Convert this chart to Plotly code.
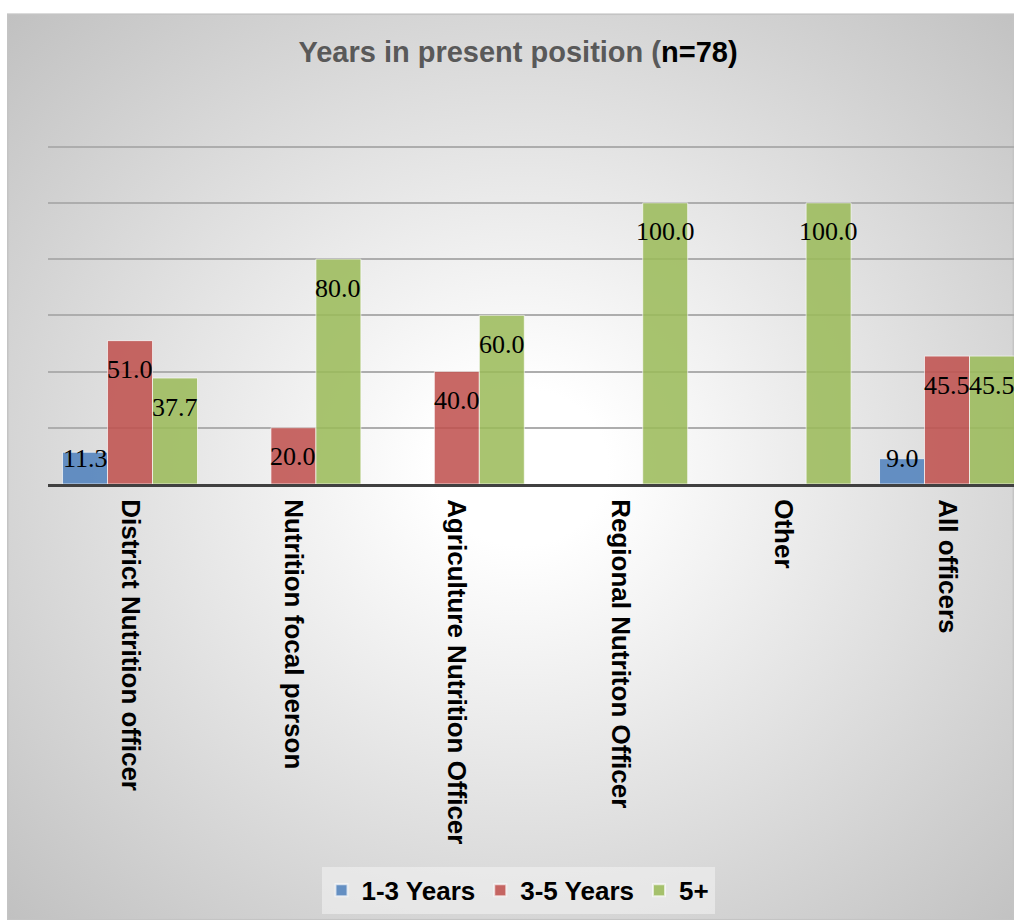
import base64
import plotly.graph_objects as go

# ---- data ----
categories = [
    "District Nutrition officer",
    "Nutrition focal person",
    "Agriculture Nutrition Officer",
    "Regional Nutriton Officer",
    "Other",
    "All officers",
]
series_names = ["1-3 Years", "3-5 Years", "5+"]
years_1_3 = [11.3, None, None, None, None, 9.0]
years_3_5 = [51.0, 20.0, 40.0, None, None, 45.5]
years_5_plus = [37.7, 80.0, 60.0, 100.0, 100.0, 45.5]
series_values = [years_1_3, years_3_5, years_5_plus]
series_colors = ["#4F81BD", "#C0504D", "#9BBB59"]

# ---- layout constants (pixels) ----
W, H = 1014, 920
BASE_Y = 484                 # pixel row of the value axis baseline
PX_PER_UNIT = 337 / 120      # vertical scale
Y_TOP = 120.6                # a little headroom so the 120 gridline is drawn
M_L, M_R = 48, 0
M_B = H - BASE_Y
PLOT_H = Y_TOP * PX_PER_UNIT
M_T = H - M_B - PLOT_H
PLOT_W = W - M_L - M_R
X_RANGE = [-0.502, 5.41]
BARGAP = 0.174

# chart-area background: soft radial gradient with a thin frame
box_x0, box_y0 = 7, 14
box_w, box_h = W - box_x0, H - box_y0
svg = f"""<svg xmlns="http://www.w3.org/2000/svg" width="{box_w}" height="{box_h}" viewBox="0 0 {box_w} {box_h}" preserveAspectRatio="none">
<defs><radialGradient id="g" cx="0.51" cy="0.5" r="0.72">
<stop offset="0" stop-color="#ffffff"/><stop offset="0.12" stop-color="#ffffff"/>
<stop offset="1" stop-color="#c0c0c0"/></radialGradient></defs>
<rect x="0" y="0" width="{box_w}" height="{box_h}" fill="url(#g)" stroke="#c4c4c4" stroke-width="3"/>
</svg>"""
bg_uri = "data:image/svg+xml;base64," + base64.b64encode(svg.encode()).decode()

fig = go.Figure()
for name, vals, col in zip(series_names, series_values, series_colors):
    fig.add_trace(go.Bar(
        name=name, x=categories, y=vals,
        marker=dict(color=col, line=dict(color="rgba(255,255,255,0.7)", width=1)),
        opacity=0.86,
        hoverinfo="skip",
    ))

# value labels placed just inside the top of each bar
cat_px = PLOT_W / (X_RANGE[1] - X_RANGE[0])
bar_px = cat_px * (1 - BARGAP) / 3
annotations = []
for i, vals in enumerate(series_values):
    for cat, v in zip(categories, vals):
        if v is None:
            continue
        drop = min(29, v * PX_PER_UNIT - 25)
        annotations.append(dict(
            x=cat, y=v, xref="x", yref="y",
            text=f"{v:.1f}", showarrow=False,
            xshift=(i - 1) * bar_px, yshift=-drop,
            xanchor="center", yanchor="middle",
            font=dict(family="Liberation Serif, Times New Roman, serif", size=26, color="#000000"),
        ))

fig.update_layout(
    width=W, height=H,
    margin=dict(l=M_L, r=M_R, t=M_T, b=M_B, pad=0),
    paper_bgcolor="#ffffff",
    plot_bgcolor="rgba(0,0,0,0)",
    barmode="group",
    bargap=BARGAP,
    bargroupgap=0,
    title=dict(
        text="<span style='color:#595959'>Years in present position (</span>n=78)",
        x=518 / W, xref="container", xanchor="center",
        y=1 - 52 / H, yref="container", yanchor="middle",
        font=dict(family="Liberation Sans, Arial, sans-serif", size=29, color="#000000", weight="bold"),
    ),
    legend=dict(
        orientation="h",
        x=(518 - M_L) / PLOT_W, xanchor="center",
        y=(H - M_B - 890) / PLOT_H, yanchor="middle",
        bgcolor="rgba(242,242,242,0.6)",
        borderwidth=0,
        font=dict(family="Liberation Sans, Arial, sans-serif", size=26, color="#000000", weight="bold"),
        itemsizing="constant",
        traceorder="normal",
    ),
    xaxis=dict(
        range=X_RANGE,
        showline=True, linecolor="#404040", linewidth=3,
        showgrid=False,
        ticks="outside", ticklen=7, tickcolor="rgba(0,0,0,0)",
        tickangle=90,
        tickfont=dict(family="Liberation Sans, Arial, sans-serif", size=26, color="#000000", weight="bold"),
        fixedrange=True,
    ),
    yaxis=dict(
        range=[0, Y_TOP], dtick=20,
        showgrid=True, gridcolor="#adadad", gridwidth=1.5,
        zeroline=False, showline=False, showticklabels=False,
        fixedrange=True,
    ),
    images=[dict(
        source=bg_uri, xref="paper", yref="paper",
        x=(box_x0 - M_L) / PLOT_W, y=(H - M_B - box_y0) / PLOT_H,
        sizex=box_w / PLOT_W, sizey=box_h / PLOT_H,
        xanchor="left", yanchor="top", sizing="stretch", layer="below",
    )],
    annotations=annotations,
    showlegend=True,
)

fig.write_html("out.html")
